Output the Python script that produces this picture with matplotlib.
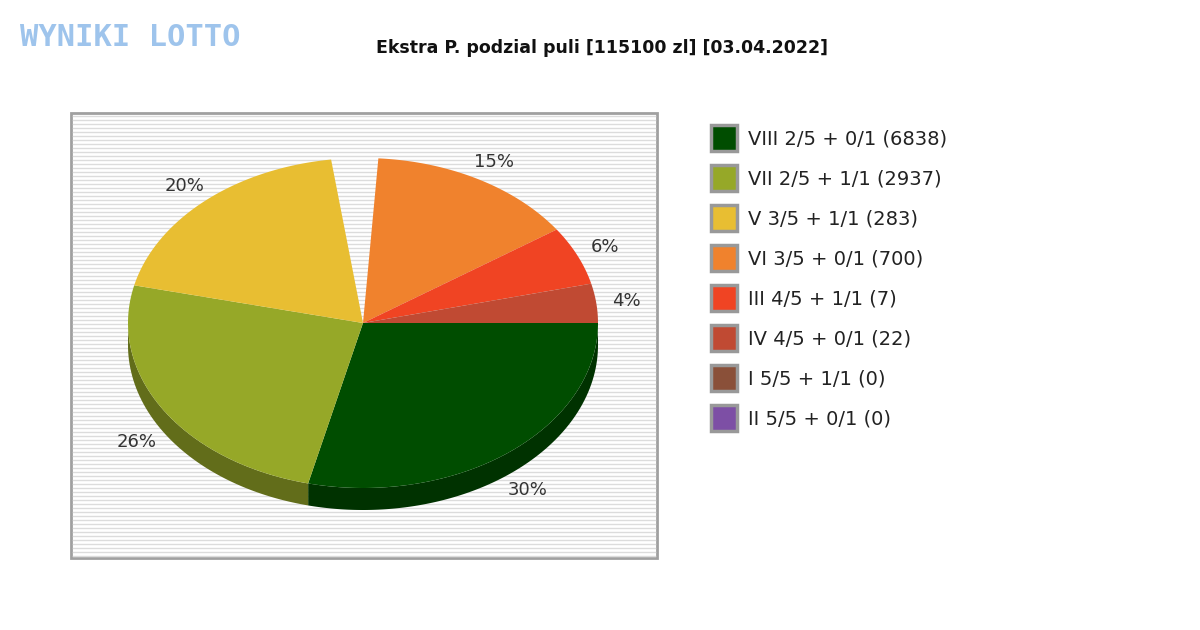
import numpy as np
import matplotlib
matplotlib.use("Agg")
import matplotlib.pyplot as plt
from matplotlib.patches import Polygon, Rectangle

title = "Ekstra P. podzial puli [115100 zl] [03.04.2022]"
labels = ["VIII 2/5 + 0/1 (6838)", "VII 2/5 + 1/1 (2937)", "V 3/5 + 1/1 (283)",
          "VI 3/5 + 0/1 (700)", "III 4/5 + 1/1 (7)", "IV 4/5 + 0/1 (22)",
          "I 5/5 + 1/1 (0)", "II 5/5 + 0/1 (0)"]
percents = [30, 26, 20, 15, 6, 4, 0, 0]
colors = ["#004d00", "#96a828", "#e8be32", "#f0822d", "#f04423", "#c04a33", "#8a5039", "#7d4fa5"]

fig = plt.figure(figsize=(12, 6.3), dpi=100)
ax = fig.add_axes([0, 0, 1, 1])
ax.set_xlim(0, 1200); ax.set_ylim(630, 0); ax.axis("off")

ax.add_patch(Rectangle((71, 113), 586, 445, facecolor="white", edgecolor="#a0a0a0", lw=2, zorder=0))
for y in np.arange(116, 557, 4):
    ax.plot([73, 655], [y, y], color="#dcdcdc", lw=1, zorder=0.5)

cx, cy, rx, ry, depth = 363, 323, 235, 165, 22
scale = 3.45
gap_after = 2
def dark(c, f=0.65):
    c = matplotlib.colors.to_rgb(c); return tuple(v * f for v in c)

wedges = []
a = 0.0
total = sum(percents)
for i, p in enumerate(percents[:6]):
    sweep = p * scale
    wedges.append((a - sweep, a, colors[i], p))
    a -= sweep
    if i == gap_after:
        a -= 360 - total * scale
for a0, a1, c, p in wedges:
    th = np.radians(np.linspace(a0, a1, 200))
    mask = np.sin(th) <= 0.001
    if mask.sum() < 2: continue
    t = th[mask]
    xs = cx + rx * np.cos(t); ys = cy - ry * np.sin(t)
    poly = np.vstack([np.column_stack([xs, ys]), np.column_stack([xs[::-1], ys[::-1] + depth])])
    ax.add_patch(Polygon(poly, closed=True, facecolor=dark(c), edgecolor="none", zorder=2))
for a0, a1, c, p in wedges:
    th = np.radians(np.linspace(a0, a1, 200))
    pts = np.column_stack([cx + rx * np.cos(th), cy - ry * np.sin(th)])
    pts = np.vstack([[cx, cy], pts])
    ax.add_patch(Polygon(pts, closed=True, facecolor=c, edgecolor="none", zorder=3))
    m = np.radians((a0 + a1) / 2)
    lx = cx + rx * 1.13 * np.cos(m)
    ly = cy - ry * 1.12 * np.sin(m) + (depth if np.sin(m) < 0 else 0)
    ax.text(lx, ly, f"{p}%", ha="center", va="center", fontsize=13, color="#333333", zorder=4)

for i, (lab, c) in enumerate(zip(labels, colors)):
    y = 138 + 40 * i
    ax.add_patch(Rectangle((711, y - 13), 26, 26, facecolor=c, edgecolor="#999999", lw=2.5))
    ax.text(748, y + 1, lab, va="center", ha="left", fontsize=14, color="#222222")

ax.text(602, 48, title, ha="center", va="center", fontsize=12.5, fontweight="bold", color="#111111")
ax.text(130, 37, "WYNIKI LOTTO", ha="center", va="center", fontsize=22, fontweight="bold",
        color="#9ec4ec", family="DejaVu Sans Mono")
fig.savefig("out.png", dpi=100)
